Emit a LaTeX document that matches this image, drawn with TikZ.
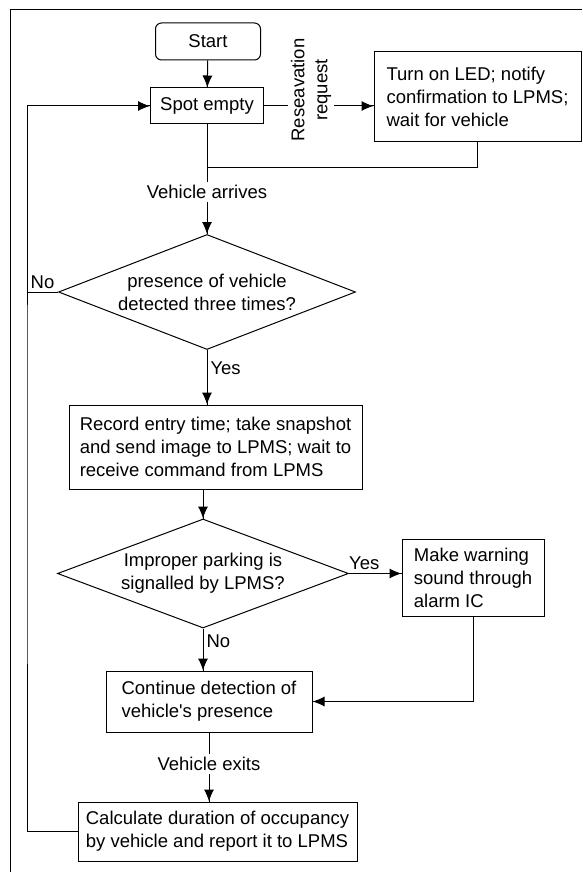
\documentclass[tikz,border=0pt]{standalone}
\usepackage{fontspec}
\setmainfont{Liberation Sans}
\usetikzlibrary{arrows.meta}
\usetikzlibrary{decorations.markings}
\usetikzlibrary{shapes.geometric}
\tikzset{->/.style = {decoration={markings,
                                  mark=at position 1 with {\arrow{Latex[length=12pt,width=10pt]}}},
                      postaction={decorate}}}
\tikzset{box/.style = {draw, align = left, inner sep = 0, font = \fontsize{18.5}{23}\selectfont}}
\tikzset{decision/.style = {draw, diamond, align = center, inner sep = 0, font = \fontsize{18.5}{23}\selectfont}}
\tikzset{lbl/.style = {inner sep = 3, font = \fontsize{18.5}{23}\selectfont}}
\begin{document}
\begin{tikzpicture}[x = 1pt, y = -1pt, line width = 1pt]
      \useasboundingbox (0, 0) rectangle (582, 872);
      \draw (582, 10) -- (10, 10) -- (10, 872);
      \node [box, rounded corners = 6, align = center, minimum width = 105, minimum height = 37] (start) at (208, 41.5) {Start};
      \node [box, align = center, minimum width = 113, minimum height = 36] (spot) at (207, 106) {Spot empty};
      \node [box, minimum width = 207, minimum height = 89] (led) at (477.5, 96.5) {Turn on LED; notify\\confirmation to LPMS;\\wait for vehicle};
      \node [decision, shape aspect = 2.58, minimum width = 297, minimum height = 115] (check) at (207, 292) {presence of vehicle\\detected three times?};
      \node [box, minimum width = 293, minimum height = 84] (record) at (215.5, 447) {Record entry time; take snapshot\\and send image to LPMS; wait to\\receive command from LPMS};
      \node [decision, shape aspect = 2.67, minimum width = 291, minimum height = 109] (improper) at (203, 573.5) {Improper parking is\\signalled by LPMS?};
      \node [box, minimum width = 142, minimum height = 77] (warning) at (473, 577.5) {Make warning\\sound through\\alarm IC};
      \node [box, minimum width = 206, minimum height = 61] (cont) at (209, 701.5) {Continue detection of\\vehicle\textquotesingle s presence};
      \node [box, minimum width = 279, minimum height = 59] (calc) at (217.5, 831.5) {Calculate duration of occupancy\\by vehicle and report it to LPMS};
      \coordinate (bus) at (27, 500);
      \coordinate (merge) at (207, 167);
      \draw [->] (start) -- (spot);
      \draw [->] (spot.east) -- (spot.east -| led.west) node [pos = 0.43, yshift = 16, rotate = 90, fill = white, lbl, align = center] {Reseavation\\request};
      \draw [->] (spot) -- (check) node [pos = 0.615, fill = white, lbl] {Vehicle arrives};
      \draw (led.south) |- (merge);
      \draw (check.west) -- (check.west -| bus) node [pos = 0.5, above, lbl] {No};
      \draw [->] (check.south) -- (check.south |- record.north) node [pos = 0.33, right, lbl] {Yes};
      \draw [->] (improper.north |- record.south) -- (improper.north);
      \draw [->] (improper.east) -- (improper.east -| warning.west) node [pos = 0.29, above, lbl] {Yes};
      \draw [->] (improper.south) -- (improper.south |- cont.north) node [pos = 0.3, right, lbl] {No};
      \draw [->] (warning.south) |- (cont.east);
      \draw [->] (cont.south) -- (cont.south |- calc.north) node [pos = 0.46, fill = white, lbl] {Vehicle exits};
      \draw [->] (calc.west) -| (bus) |- (spot.west);
    \end{tikzpicture}
\end{document}
